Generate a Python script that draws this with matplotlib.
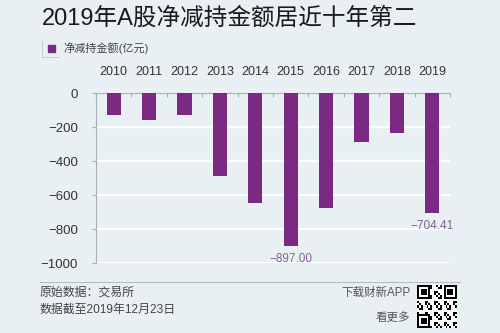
import numpy as np
import matplotlib
matplotlib.use("Agg")
import matplotlib.pyplot as plt

plt.rcParams['font.family'] = ['Liberation Sans', 'Noto Sans CJK SC', 'DejaVu Sans']
plt.rcParams['axes.unicode_minus'] = True

# net reduction of holdings per year (100 million yuan)
years = ['2010', '2011', '2012', '2013', '2014', '2015', '2016', '2017', '2018', '2019']
net_reduction = [-128, -157, -130, -485, -647, -897.00, -675, -285, -235, -704.41]
labelled_years = ['2015', '2019']
y_ticks = [0, -200, -400, -600, -800, -1000]

BG = '#e9f0f4'
BAR = '#7b2a84'
AXIS = '#a9b0b5'

fig = plt.figure(figsize=(5, 3.33), dpi=100, facecolor=BG)
ax = fig.add_axes([0.192, 0.21, 0.708, 0.51])
ax.set_facecolor(BG)

x = np.arange(len(years))
ax.bar(x, net_reduction, width=0.4, color=BAR, zorder=3)

ax.set_xlim(-0.5, len(years) - 0.5)
ax.set_ylim(-1000, 0)

# white horizontal grid
for v in y_ticks[1:]:
    ax.axhline(v, color='white', lw=1.6, zorder=1)

for s in ['right', 'bottom']:
    ax.spines[s].set_visible(False)
ax.spines['top'].set_color(AXIS)
ax.spines['left'].set_color(AXIS)
ax.spines['top'].set_linewidth(0.8)
ax.spines['left'].set_linewidth(0.8)

ax.set_yticks(y_ticks)
ax.set_yticklabels([str(v).replace('-', '\u2212') for v in y_ticks])
ax.tick_params(axis='y', colors=AXIS, labelcolor='#333333', labelsize=9.5,
               length=3, width=0.8, pad=10)

# year labels above, small ticks at category boundaries
ax.xaxis.tick_top()
ax.set_xticks(x)
ax.set_xticklabels(years)
ax.set_xticks(np.arange(-0.5, len(years)), minor=True)
ax.tick_params(axis='x', which='major', length=0, labelsize=9,
               labelcolor='#333333', pad=11)
ax.tick_params(axis='x', which='minor', direction='in', length=3,
               width=0.8, colors=AXIS, top=True, bottom=False)

for yr, val in zip(years, net_reduction):
    if yr in labelled_years:
        ax.annotate(f'{val:.2f}'.replace('-', '\u2212'), (years.index(yr), val),
                    xytext=(0, -5), textcoords='offset points',
                    ha='center', va='top', fontsize=8.5, color='#7f6590')

# title and legend
fig.text(0.084, 0.943, '2019年A股净减持金额居近十年第二', fontsize=17,
         color='#1a1a1a', va='center', ha='left')
fig.patches.append(plt.Rectangle((0.096, 0.843), 0.014, 0.021, transform=fig.transFigure,
                                 color=BAR))
fig.text(0.126, 0.855, '净减持金额(亿元)', fontsize=8, color='#444444',
         va='center', ha='left')
fig.lines.append(plt.Line2D([0.083, 0.083], [0.83, 0.88], transform=fig.transFigure,
                            color='#9aa3aa', lw=0.6, ls=(0, (1, 1))))
fig.lines.append(plt.Line2D([0.083, 0.118], [0.83, 0.83], transform=fig.transFigure,
                            color='#9aa3aa', lw=0.6, ls=(0, (1, 1))))

# footer
fig.lines.append(plt.Line2D([0.08, 0.92], [0.153, 0.153], transform=fig.transFigure,
                            color='#b5bcc2', lw=0.8))
fig.text(0.08, 0.12, '原始数据：交易所', fontsize=8.6, color='#444444', va='center')
fig.text(0.08, 0.069, '数据截至2019年12月23日', fontsize=8.6, color='#444444', va='center')
fig.text(0.82, 0.12, '下载财新APP', fontsize=8.3, color='#555555', va='center', ha='right')
fig.text(0.82, 0.045, '看更多', fontsize=8.3, color='#555555', va='center', ha='right')

# QR code block
n = 21
qr = np.ones((n, n))
for i in range(n):
    for j in range(n):
        if ((i * 7 + j * 13 + i * j) % 5) < 2:
            qr[i, j] = 0
for (r, c) in [(0, 0), (0, n - 7), (n - 7, 0)]:
    qr[r:r + 7, c:c + 7] = 1
    qr[r:r + 7, c] = 0
    qr[r:r + 7, c + 6] = 0
    qr[r, c:c + 7] = 0
    qr[r + 6, c:c + 7] = 0
    qr[r + 2:r + 5, c + 2:c + 5] = 0
qax = fig.add_axes([0.834, 0.015, 0.08, 0.128])
qax.imshow(qr, cmap='gray', interpolation='nearest', vmin=0, vmax=1, aspect='auto')
qax.axis('off')

fig.savefig('out.png', dpi=100, facecolor=BG)
